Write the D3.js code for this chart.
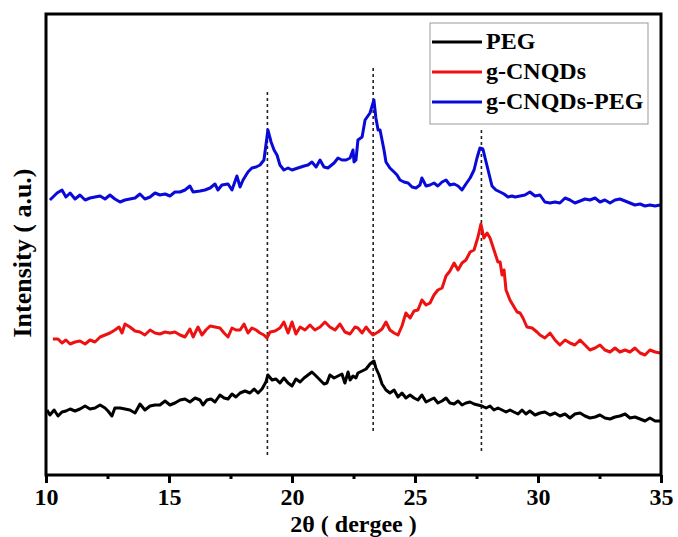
<!DOCTYPE html>
<html>
<head>
<meta charset="utf-8">
<script src="https://cdn.jsdelivr.net/npm/d3@7"></script>
<style>
  body { margin: 0; background: #fff; }
  text { font-family: "Liberation Serif", "Times New Roman", serif; font-weight: bold; }
</style>
</head>
<body>
<script>
const width = 678;
const height = 537;
const marginTop = 14;
const marginRight = 17;
const marginBottom = 62;
const marginLeft = 46;

// 2theta (deg) and intensity (a.u.)
const pegTheta = [10.04,10.16,10.33,10.49,10.65,10.81,10.98,11.18,11.38,11.59,11.79,11.99,12.20,12.40,12.52,12.68,12.80,13.01,13.21,13.41,13.62,13.82,14.02,14.23,14.43,14.63,14.84,15.04,15.24,15.45,15.65,15.85,16.06,16.26,16.38,16.54,16.71,16.87,17.07,17.24,17.40,17.56,17.72,17.89,18.09,18.29,18.46,18.62,18.78,18.94,19.02,19.19,19.35,19.51,19.67,19.84,20.00,20.16,20.33,20.49,20.65,20.81,20.98,21.14,21.30,21.42,21.54,21.71,21.87,22.03,22.15,22.28,22.36,22.48,22.60,22.68,22.85,23.01,23.17,23.33,23.41,23.54,23.66,23.82,23.98,24.15,24.31,24.47,24.63,24.80,24.96,25.12,25.28,25.45,25.61,25.77,25.93,26.10,26.26,26.42,26.59,26.75,26.91,27.07,27.24,27.40,27.56,27.72,27.89,28.05,28.21,28.37,28.54,28.70,28.86,29.02,29.19,29.35,29.51,29.67,29.88,30.08,30.28,30.49,30.69,30.89,31.10,31.30,31.50,31.71,31.91,32.11,32.32,32.52,32.72,32.93,33.13,33.33,33.54,33.74,33.94,34.15,34.35,34.55,34.76,34.96];
const pegI = [65,60,65,59,63,64,66,64,66,69,66,67,70,67,64,59,67,67,66,65,62,71,65,69,70,70,74,70,72,75,76,73,77,75,70,75,76,73,80,77,76,81,78,82,84,82,86,82,86,93,100,95,96,92,97,92,89,96,93,97,100,103,99,95,91,92,100,97,99,101,92,103,95,99,97,102,104,106,111,114,107,100,91,85,82,85,78,82,77,80,77,75,80,73,75,77,72,74,77,72,71,74,70,72,73,71,70,69,67,69,65,67,65,63,65,63,61,65,61,64,60,62,63,60,62,59,61,57,61,62,59,57,58,60,57,56,58,59,61,57,58,56,54,57,54,54];

const cnTheta = [10.28,10.49,10.65,10.81,10.98,11.18,11.38,11.59,11.79,11.99,12.20,12.40,12.60,12.80,12.97,13.09,13.21,13.41,13.62,13.82,14.02,14.23,14.43,14.63,14.84,15.04,15.24,15.45,15.65,15.85,15.98,16.18,16.34,16.50,16.67,16.87,17.07,17.24,17.40,17.56,17.72,17.89,18.05,18.21,18.37,18.54,18.70,18.86,18.98,19.11,19.31,19.51,19.67,19.84,20.00,20.16,20.33,20.53,20.73,20.93,21.14,21.34,21.54,21.75,21.95,22.15,22.36,22.56,22.68,22.85,23.01,23.17,23.29,23.50,23.66,23.82,23.98,24.15,24.31,24.47,24.63,24.80,24.96,25.12,25.28,25.45,25.61,25.77,25.93,26.10,26.26,26.42,26.59,26.75,26.91,27.07,27.24,27.40,27.56,27.68,27.80,27.93,28.05,28.21,28.37,28.46,28.54,28.62,28.70,28.86,28.98,29.15,29.27,29.39,29.55,29.76,29.96,30.08,30.28,30.49,30.69,30.89,31.10,31.30,31.50,31.71,31.91,32.11,32.32,32.52,32.72,32.93,33.13,33.33,33.54,33.74,33.94,34.15,34.35,34.55,34.76,34.96];
const cnI = [136,136,132,135,131,133,134,131,135,133,138,140,142,145,148,142,151,148,144,143,140,145,142,141,143,142,143,140,138,146,138,148,140,145,149,148,147,142,138,147,145,145,151,142,147,145,142,140,137,143,144,147,153,142,153,141,148,145,150,145,148,153,148,145,151,143,141,148,147,142,148,143,140,143,146,153,145,142,140,149,162,157,164,165,175,170,172,180,185,187,199,204,212,205,212,215,223,225,238,251,237,242,237,225,213,213,200,205,185,175,170,163,162,157,148,147,143,140,137,142,135,130,135,132,130,135,130,125,127,130,125,123,127,123,125,123,127,122,120,125,123,122];

const cnPegTheta = [10.16,10.45,10.65,10.81,10.98,11.18,11.38,11.59,11.79,11.99,12.20,12.40,12.60,12.80,13.01,13.21,13.41,13.62,13.82,14.02,14.23,14.43,14.63,14.84,15.04,15.24,15.45,15.65,15.85,15.98,16.26,16.46,16.67,16.87,16.99,17.15,17.40,17.56,17.76,17.89,18.01,18.21,18.37,18.54,18.70,18.86,19.02,19.15,19.27,19.39,19.51,19.67,19.84,20.00,20.24,20.49,20.65,20.81,20.98,21.14,21.30,21.46,21.71,21.87,22.03,22.20,22.36,22.48,22.52,22.60,22.68,22.85,22.97,23.17,23.33,23.41,23.50,23.58,23.66,23.74,23.82,23.98,24.15,24.27,24.39,24.55,24.72,24.88,25.04,25.20,25.28,25.45,25.61,25.77,25.93,26.10,26.26,26.42,26.59,26.75,26.91,27.07,27.24,27.40,27.52,27.64,27.76,27.89,27.97,28.13,28.29,28.46,28.62,28.78,28.94,29.07,29.27,29.47,29.67,29.88,30.08,30.28,30.49,30.69,30.89,31.10,31.30,31.50,31.71,31.91,32.11,32.32,32.52,32.72,32.93,33.13,33.33,33.54,33.74,33.94,34.15,34.35,34.55,34.76,34.96];
const cnPegI = [275,282,285,278,282,276,280,275,277,278,279,276,280,276,273,275,276,277,281,276,278,282,280,281,279,283,283,285,289,283,284,285,287,291,285,290,291,285,299,288,295,303,307,308,310,315,345,333,325,320,310,305,307,305,307,309,310,313,308,315,308,307,312,317,315,315,317,325,313,315,335,338,355,362,375,357,345,345,335,325,313,307,303,300,295,293,292,288,287,290,297,289,290,292,289,293,295,290,291,289,285,291,297,305,317,327,326,313,305,289,285,283,281,278,279,278,279,280,283,279,280,273,272,273,272,277,275,272,274,276,275,277,273,275,272,275,276,274,272,270,271,269,270,269,270];

const seriesNames = ["PEG", "g-CNQDs", "g-CNQDs-PEG"];
const seriesColors = ["#000000", "#ee1111", "#0a0ad8"];

// dotted guide lines at the main peaks
const peakTheta = [19.0, 23.3, 27.7];
const peakTop = [383, 407, 345];
const peakBottom = [20, 43, 23];

const majorTicks = [10, 15, 20, 25, 30, 35];
const minorTicks = [12.5, 17.5, 22.5, 27.5, 32.5];

const x = d3.scaleLinear()
  .domain([10, 35])
  .range([marginLeft, width - marginRight]);

const y = d3.scaleLinear()
  .domain([0, 461])
  .range([height - marginBottom, marginTop]);

const svg = d3.select("body").append("svg")
  .attr("width", width)
  .attr("height", height);

const series = [
  {theta: pegTheta, I: pegI},
  {theta: cnTheta, I: cnI},
  {theta: cnPegTheta, I: cnPegI}
];

const line = d3.line()
  .x(d => x(d[0]))
  .y(d => y(d[1]));

// guide lines
svg.append("g").selectAll("line")
  .data(peakTheta)
  .enter().append("line")
    .attr("x1", d => x(d))
    .attr("x2", d => x(d))
    .attr("y1", (d, i) => y(peakTop[i]))
    .attr("y2", (d, i) => y(peakBottom[i]))
    .attr("stroke", "#222")
    .attr("stroke-width", 1.6)
    .attr("stroke-dasharray", "3,3");

svg.append("g").selectAll("path")
  .data(series)
  .enter().append("path")
    .attr("d", d => line(d.theta.map((t, i) => [t, d.I[i]])))
    .attr("fill", "none")
    .attr("stroke", (d, i) => seriesColors[i])
    .attr("stroke-width", 3)
    .attr("stroke-linejoin", "round");

// frame
svg.append("rect")
  .attr("x", x(10))
  .attr("y", marginTop)
  .attr("width", x(35) - x(10))
  .attr("height", height - marginBottom - marginTop)
  .attr("fill", "none")
  .attr("stroke", "black")
  .attr("stroke-width", 3);

const xAxis = svg.append("g")
  .attr("transform", `translate(0,${height - marginBottom})`)
  .call(d3.axisBottom(x).tickValues(majorTicks).tickSize(8).tickPadding(5).tickFormat(d3.format("d")));
xAxis.select(".domain").remove();
xAxis.selectAll(".tick line").attr("stroke-width", 3);
xAxis.selectAll(".tick text")
  .style("font-size", "24px")
  .style("font-family", "Liberation Serif, serif")
  .style("font-weight", "bold")
  .attr("fill", "black");

const xMinor = svg.append("g")
  .attr("transform", `translate(0,${height - marginBottom})`)
  .call(d3.axisBottom(x).tickValues(minorTicks).tickSize(4).tickFormat(""));
xMinor.select(".domain").remove();
xMinor.selectAll(".tick line").attr("stroke-width", 3);

svg.append("text")
  .text("2θ ( dergee )")
  .attr("x", (x(10) + x(35)) / 2)
  .attr("y", 532)
  .attr("text-anchor", "middle")
  .style("font-size", "24px");

svg.append("text")
  .text("Intensity ( a.u.)")
  .attr("transform", "translate(31,253) rotate(-90)")
  .attr("text-anchor", "middle")
  .style("font-size", "26px");

// legend
const legend = svg.append("g");
legend.append("rect")
  .attr("x", 430)
  .attr("y", 23)
  .attr("width", 218)
  .attr("height", 101)
  .attr("fill", "white")
  .attr("stroke", "#999")
  .attr("stroke-width", 1);

const entry = legend.selectAll(".entry")
  .data(seriesNames)
  .enter().append("g")
    .attr("class", "entry")
    .attr("transform", (d, i) => `translate(0,${49 + i * 30})`);
entry.append("line")
  .attr("x1", 432)
  .attr("x2", 482)
  .attr("y1", -7)
  .attr("y2", -7)
  .attr("stroke", (d, i) => seriesColors[i])
  .attr("stroke-width", 3);
entry.append("text")
  .text(d => d)
  .attr("x", 486)
  .attr("y", 0)
  .style("font-size", "24px");
</script>
</body>
</html>
